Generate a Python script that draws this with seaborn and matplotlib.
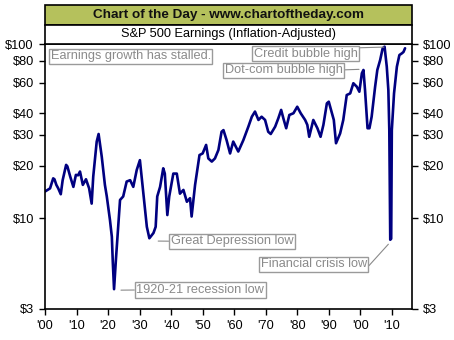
import numpy as np
import pandas as pd
import matplotlib
matplotlib.use("Agg")
import matplotlib.pyplot as plt
from matplotlib.patches import Rectangle
import seaborn as sns

# S&P 500 earnings, inflation-adjusted (USD)
years = [1900.0, 1900.8, 1901.6, 1902.6, 1903.0, 1903.6, 1904.2, 1905.0, 1905.6, 1906.7,
         1907.1, 1908.0, 1909.0, 1909.8, 1910.5, 1911.1, 1912.0, 1913.0, 1914.0, 1914.8,
         1915.3, 1916.4, 1917.0, 1918.0, 1919.0, 1919.6, 1920.6, 1921.2, 1921.5, 1921.9,
         1922.5, 1923.0, 1923.8, 1924.8, 1925.9, 1927.0, 1928.0, 1929.1, 1930.1, 1931.2,
         1932.3, 1933.1, 1934.4, 1935.1, 1935.6, 1936.5, 1937.5, 1938.0, 1938.8, 1939.4,
         1940.7, 1941.8, 1942.8, 1943.9, 1945.0, 1946.0, 1946.5, 1947.6, 1948.3, 1949.0,
         1950.0, 1951.1, 1951.8, 1952.9, 1953.9, 1955.0, 1956.0, 1956.6, 1957.6, 1958.7,
         1959.7, 1961.3, 1962.9, 1964.5, 1965.6, 1966.6, 1967.7, 1968.7, 1969.8, 1970.8,
         1971.6, 1973.0, 1974.0, 1974.9, 1975.6, 1976.5, 1977.5, 1978.8, 1980.0, 1981.1,
         1982.5, 1983.2, 1983.8, 1985.1, 1986.4, 1987.4, 1988.3, 1989.4, 1990.0, 1991.0,
         1991.6, 1992.3, 1993.6, 1994.6, 1995.7, 1996.8, 1997.8, 1998.9, 1999.7, 2000.5,
         2001.0, 2001.5, 2002.3, 2002.9, 2003.6, 2004.7, 2005.4, 2006.3, 2007.1, 2007.7,
         2008.4, 2008.9, 2009.2, 2009.5, 2009.8, 2010.0, 2010.7, 2011.6, 2012.4, 2013.2,
         2013.7, 2014.2]
earnings = [14.2, 14.5, 14.8, 16.9, 16.7, 15.5, 14.8, 13.7, 16.5, 20.2,
            19.8, 17.3, 15.1, 17.7, 17.6, 18.5, 15.5, 16.7, 14.8, 12.1,
            17.3, 27.5, 30.4, 22.5, 15.5, 13.3, 9.75, 7.8, 5.6, 3.9,
            5.8, 7.8, 12.7, 13.3, 16.2, 16.5, 15.1, 18.9, 21.5, 13.8,
            8.9, 7.65, 8.2, 8.9, 13.3, 15.1, 19.3, 18.0, 10.4, 13.3,
            18.0, 18.0, 13.8, 14.5, 12.4, 13.0, 10.2, 15.5, 18.9, 23.0,
            23.5, 26.3, 22.0, 21.1, 22.0, 24.6, 31.3, 32.0, 28.0, 23.5,
            27.5, 24.1, 28.0, 33.5, 38.2, 40.9, 36.6, 38.2, 36.6, 31.3,
            30.4, 33.5, 37.4, 41.8, 37.4, 32.8, 39.1, 40.0, 43.6, 40.0,
            36.6, 34.3, 29.3, 36.6, 32.8, 29.3, 34.3, 45.6, 46.6, 40.0,
            36.6, 26.9, 30.6, 36.6, 50.9, 52.0, 59.5, 56.8, 53.2, 67.9,
            70.9, 54.4, 32.8, 32.8, 38.2, 56.8, 70.9, 80.9, 94.5, 96.5,
            74.0, 54.4, 32.0, 7.5, 7.6, 32.0, 52.0, 74.0, 86.4, 88.4,
            90.0, 94.5]

y_ticks = [3, 10, 20, 30, 40, 60, 80, 100]
y_labels = ["$3", "$10", "$20", "$30", "$40", "$60", "$80", "$100"]
x_ticks = [1900, 1910, 1920, 1930, 1940, 1950, 1960, 1970, 1980, 1990, 2000, 2010]
x_labels = ["'00", "'10", "'20", "'30", "'40", "'50", "'60", "'70", "'80", "'90", "'00", "'10"]

# (text, year, value) for the callouts
notes = [
    ("Credit bubble high", 2007.5, 96.0),
    ("Dot-com bubble high", 1999.6, 71.5),
    ("Great Depression low", 1935.9, 7.37),
    ("1920-21 recession low", 1924.1, 3.85),
    ("Financial crisis low", 2008.9, 7.07),
]

sns.set_style("white")
plt.rcParams["font.family"] = ["Liberation Sans", "DejaVu Sans"]

W, H = 454, 340
fig = plt.figure(figsize=(W / 100, H / 100), dpi=100)
fig.patch.set_facecolor("white")


def fx(px):
    return px / W


def fy(py):
    return 1 - py / H


L, R, T_HEAD, T_TITLE, T_PLOT, B_PLOT = 45, 412, 5, 25, 44, 309
FS = 9.2

# header band and title row
fig.patches.append(Rectangle((fx(L), fy(T_TITLE)), fx(R) - fx(L), fy(T_HEAD) - fy(T_TITLE),
                             transform=fig.transFigure, facecolor="#B5C15C",
                             edgecolor="black", linewidth=1.2, zorder=0))
fig.patches.append(Rectangle((fx(L), fy(T_PLOT)), fx(R) - fx(L), fy(T_TITLE) - fy(T_PLOT),
                             transform=fig.transFigure, facecolor="white",
                             edgecolor="black", linewidth=1.2, zorder=0))
fig.text(fx((L + R) / 2), fy((T_HEAD + T_TITLE) / 2) , "Chart of the Day - www.chartoftheday.com",
         ha="center", va="center", fontsize=9.7, fontweight="bold", color="#111111")
fig.text(fx((L + R) / 2), fy((T_TITLE + T_PLOT) / 2) , "S&P 500 Earnings (Inflation-Adjusted)",
         ha="center", va="center", fontsize=FS, color="black")

ax = fig.add_axes([fx(L), fy(B_PLOT), fx(R) - fx(L), fy(T_PLOT) - fy(B_PLOT)])
df = pd.DataFrame({"year": years, "earnings": earnings})
sns.lineplot(data=df, x="year", y="earnings", ax=ax, color="#000080", linewidth=1.9)

ax.set_yscale("log")
ax.set_ylim(3, 100)
ax.set_xlim(1900, 2016.4)
ax.set_yticks(y_ticks)
ax.set_yticklabels(y_labels)
ax.yaxis.set_minor_locator(matplotlib.ticker.NullLocator())
ax.set_xticks(x_ticks)
ax.set_xticklabels(x_labels)
ax.set_xlabel("")
ax.set_ylabel("")
for s in ax.spines.values():
    s.set_visible(True)
    s.set_color("black")
    s.set_linewidth(1.2)
ax.tick_params(axis="y", which="major", left=True, right=True, labelleft=True, labelright=True,
               direction="out", length=4, width=1, labelsize=FS, pad=4, colors="black")
ax.tick_params(axis="x", which="major", bottom=True, direction="out", length=4, width=1,
               labelsize=FS, pad=4, colors="black")

box = dict(boxstyle="square,pad=0.12", facecolor="white", edgecolor="#9a9a9a", linewidth=1)
note_color = "#8a8a8a"

# free-standing comment
fig.text(fx(130.8), fy(56.3), "Earnings growth has stalled.", ha="center", va="center",
         fontsize=FS, color=note_color, bbox=box)

# callout positions (figure pixels, box centre) and connector anchors
text_pos = [(305.8, 53.8, (1.0, 1.0)), (283.8, 70.5, (1.0, 0.55)), (232.0, 241.2, (0.0, 0.5)),
            (200.3, 290.0, (0.0, 0.5)), (313.8, 264.3, (1.0, 0.2))]
for (label, yr, val), (tx, ty, rp) in zip(notes, text_pos):
    ax.annotate(label, xy=(yr, val), xycoords="data",
                xytext=(tx, H - ty), textcoords="figure pixels",
                ha="center", va="center", fontsize=FS, color=note_color, bbox=box,
                arrowprops=dict(arrowstyle="-", color="#8a8a8a", linewidth=0.8,
                                shrinkA=0, shrinkB=0, relpos=rp),
                annotation_clip=False)

fig.savefig("out.png", dpi=100, facecolor="white")
